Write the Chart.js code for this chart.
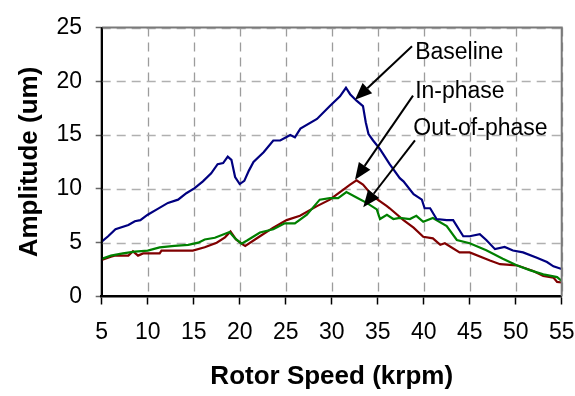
<!DOCTYPE html>
<html>
<head>
<meta charset="utf-8">
<script src="https://cdn.jsdelivr.net/npm/chart.js@4.4.0/dist/chart.umd.min.js"></script>
<style>body{margin:0;background:#fff}canvas{display:block}</style>
</head>
<body>
<canvas id="myChart" width="575" height="396"></canvas>
<script>
// Baseline (blue)
const baseSpeed = [5.0, 5.7, 6.5, 7.9, 8.6, 9.2, 10.0, 11.0, 12.2, 13.3, 14.2, 15.1, 16.0, 16.9, 17.6, 18.2, 18.7, 19.1, 19.5, 20.0,
  20.5, 21.0, 21.5, 22.6, 23.65, 24.4, 25.5, 26.0, 26.6, 28.4, 29.8, 30.9, 31.55, 32.0, 32.7, 33.4, 33.7, 34.0, 34.5, 35.25,
  36.3, 37.4, 37.8, 38.9, 39.8, 40.1, 40.7, 41.4, 42.5, 43.2, 44.3, 45.0, 46.1, 46.8, 47.75, 48.8, 49.7, 50.8, 52.3, 53.4, 54.1, 55.0];
const baseAmp = [5.1, 5.6, 6.26, 6.65, 7.0, 7.1, 7.6, 8.1, 8.7, 9.0, 9.6, 10.07, 10.7, 11.45, 12.3, 12.4, 13.0, 12.7, 11.1, 10.45,
  10.75, 11.7, 12.5, 13.4, 14.5, 14.5, 15.0, 14.8, 15.6, 16.5, 17.7, 18.6, 19.4, 18.8, 18.2, 17.7, 16.2, 15.1, 14.5, 13.7,
  12.3, 11.0, 10.7, 9.5, 9.0, 8.2, 8.2, 7.2, 7.1, 7.1, 5.6, 5.6, 5.8, 5.25, 4.4, 4.6, 4.27, 4.1, 3.6, 3.2, 2.8, 2.55];

// In-phase (red)
const inSpeed = [5.0, 6.0, 6.4, 7.9, 8.4, 8.95, 9.5, 11.3, 11.5, 14.9, 16.2, 17.5, 18.4, 19.0, 19.6, 20.4, 20.6, 22.2, 23.65, 25.1,
  26.55, 28.4, 29.8, 30.9, 32.0, 32.7, 33.4, 34.5, 36.0, 36.3, 37.8, 38.9, 39.95, 41.0, 41.8, 42.3, 43.9, 45.0, 47.2, 48.3,
  50.1, 51.9, 53.0, 54.1, 54.5, 55.0];
const inAmp = [3.4, 3.7, 3.8, 3.8, 4.2, 3.8, 4.0, 4.0, 4.27, 4.27, 4.57, 5.0, 5.5, 6.04, 5.3, 4.8, 4.7, 5.6, 6.4, 7.1,
  7.5, 8.4, 9.0, 9.7, 10.4, 10.8, 10.4, 9.3, 8.4, 8.2, 7.1, 6.4, 5.55, 5.4, 4.8, 4.95, 4.1, 4.1, 3.35, 3.0,
  2.9, 2.37, 1.9, 1.76, 1.36, 1.3];

// Out-of-phase (green)
const outSpeed = [5.0, 6.0, 7.3, 8.6, 10.0, 11.3, 12.9, 14.4, 15.5, 16.2, 17.3, 18.9, 19.5, 20.2, 20.8, 22.2, 23.65, 24.9, 26.0, 27.3,
  28.7, 29.8, 30.7, 31.6, 32.7, 33.8, 34.9, 35.25, 36.0, 36.7, 37.4, 38.5, 39.2, 39.95, 41.0, 42.5, 43.6, 45.0, 46.8, 48.6,
  50.1, 51.6, 53.0, 54.5, 55.0];
const outAmp = [3.5, 3.8, 4.0, 4.17, 4.27, 4.57, 4.7, 4.8, 5.0, 5.3, 5.46, 6.0, 5.4, 4.9, 5.2, 5.95, 6.25, 6.8, 6.8, 7.6,
  9.0, 9.15, 9.15, 9.7, 9.2, 8.7, 8.1, 7.2, 7.6, 7.2, 7.3, 7.2, 7.5, 6.95, 7.3, 6.55, 5.25, 4.95, 4.3, 3.5,
  2.9, 2.43, 2.06, 1.8, 1.45];

// callouts (in data units)
const arrowLabels = ['Baseline', 'In-phase', 'Out-of-phase'];
const arrowTail = [[38.73, 23.26], [38.84, 18.67], [39.05, 14.5]];
const arrowTip = [[32.53, 18.28], [32.53, 10.84], [33.43, 8.30]];
const labelPos = [[39.07, 22.06], [39.07, 18.49], [38.87, 14.97]];

const xy = (xs, ys) => xs.map((v, i) => ({x: v, y: ys[i]}));

// dashed grid drawn at the scales' own tick positions (axis lines themselves stay solid)
const dashGrid = {
  id: 'dashGrid',
  beforeDatasetsDraw(chart) {
    const {ctx, chartArea: a} = chart;
    const sx = chart.scales.x, sy = chart.scales.y;
    ctx.save();
    ctx.lineWidth = 1.3;
    ctx.setLineDash([9, 6]);
    ctx.strokeStyle = '#9c9c9c';
    sx.ticks.forEach(t => {
      if (t.value === sx.min) return;
      const px = Math.round(sx.getPixelForValue(t.value)) + 0.5;
      ctx.beginPath(); ctx.moveTo(px, a.top); ctx.lineTo(px, a.bottom); ctx.stroke();
    });
    ctx.strokeStyle = '#b0b0b0';
    sy.ticks.forEach(t => {
      if (t.value === sy.min) return;
      const py = Math.round(sy.getPixelForValue(t.value)) + 0.5;
      ctx.beginPath(); ctx.moveTo(a.left, py); ctx.lineTo(a.right, py); ctx.stroke();
    });
    ctx.restore();
  }
};

const calloutPlugin = {
  id: 'callouts',
  afterDatasetsDraw(chart) {
    const {ctx, chartArea: a} = chart;
    const sx = chart.scales.x, sy = chart.scales.y;
    ctx.save();
    // top/right frame
    ctx.strokeStyle = '#7a7a7a';
    ctx.lineWidth = 2;
    ctx.beginPath();
    ctx.moveTo(a.left, a.top);
    ctx.lineTo(a.right, a.top);
    ctx.lineTo(a.right, a.bottom);
    ctx.stroke();
    // left axis line, solid black
    ctx.strokeStyle = '#000';
    ctx.beginPath();
    ctx.moveTo(a.left, a.top);
    ctx.lineTo(a.left, a.bottom);
    ctx.stroke();

    ctx.fillStyle = '#000';
    ctx.lineWidth = 2;
    ctx.font = '23px "Liberation Sans", Arial, sans-serif';
    ctx.textBaseline = 'alphabetic';
    ctx.textAlign = 'left';
    arrowLabels.forEach((lbl, i) => {
      const x1 = sx.getPixelForValue(arrowTail[i][0]), y1 = sy.getPixelForValue(arrowTail[i][1]);
      const x2 = sx.getPixelForValue(arrowTip[i][0]), y2 = sy.getPixelForValue(arrowTip[i][1]);
      const ang = Math.atan2(y2 - y1, x2 - x1);
      const hl = 17, hw = 7;
      const bx = x2 - hl * Math.cos(ang), by = y2 - hl * Math.sin(ang);
      ctx.beginPath();
      ctx.moveTo(x1, y1);
      ctx.lineTo(bx, by);
      ctx.stroke();
      ctx.beginPath();
      ctx.moveTo(x2, y2);
      ctx.lineTo(bx + hw * Math.sin(ang), by - hw * Math.cos(ang));
      ctx.lineTo(bx - hw * Math.sin(ang), by + hw * Math.cos(ang));
      ctx.closePath();
      ctx.fill();
      ctx.fillText(lbl, sx.getPixelForValue(labelPos[i][0]), sy.getPixelForValue(labelPos[i][1]));
    });
    ctx.restore();
  }
};

Chart.defaults.font.family = '"Liberation Sans", Arial, sans-serif';
Chart.defaults.color = '#000';

const canva = document.getElementById('myChart').getContext('2d');
const config = {
  type: 'line',
  data: {
    datasets: [
      {label: 'Baseline', data: xy(baseSpeed, baseAmp), borderColor: '#000080'},
      {label: 'Out-of-phase', data: xy(outSpeed, outAmp), borderColor: '#008000'},
      {label: 'In-phase', data: xy(inSpeed, inAmp), borderColor: '#800000'}
    ]
  },
  options: {
    responsive: false,
    animation: false,
    devicePixelRatio: 1,
    layout: {padding: {top: 22.5, right: 0, left: 0, bottom: 0}},
    elements: {
      point: {radius: 0},
      line: {borderWidth: 2.2, tension: 0, fill: false}
    },
    plugins: {legend: {display: false}, tooltip: {enabled: false}},
    scales: {
      x: {
        type: 'linear', min: 5, max: 55,
        ticks: {stepSize: 5, font: {size: 23}, padding: 14, color: '#000'},
        grid: {drawOnChartArea: false, tickLength: 8, tickColor: '#000', tickWidth: 1.5},
        border: {color: '#000', width: 2.5},
        title: {display: true, text: 'Rotor Speed (krpm)', font: {size: 26, weight: 'bold'}, padding: {top: 0, bottom: 3.4}, color: '#000'},
        afterFit(scale) { scale.height = 99.5; scale.paddingRight = 13.3; }
      },
      y: {
        min: 0, max: 25,
        ticks: {stepSize: 5, font: {size: 23}, padding: 13.7, color: '#000'},
        grid: {drawOnChartArea: false, tickLength: 6, tickColor: '#666', tickWidth: 1.5},
        border: {color: '#000', width: 2},
        title: {display: true, text: 'Amplitude (um)', font: {size: 26, weight: 'bold'}, padding: {top: 14.4, bottom: 0}, color: '#000'},
        afterFit(scale) { scale.width = 101.7; }
      }
    }
  },
  plugins: [dashGrid, calloutPlugin]
};

window.grafica = new Chart(canva, config);
</script>
</body>
</html>
